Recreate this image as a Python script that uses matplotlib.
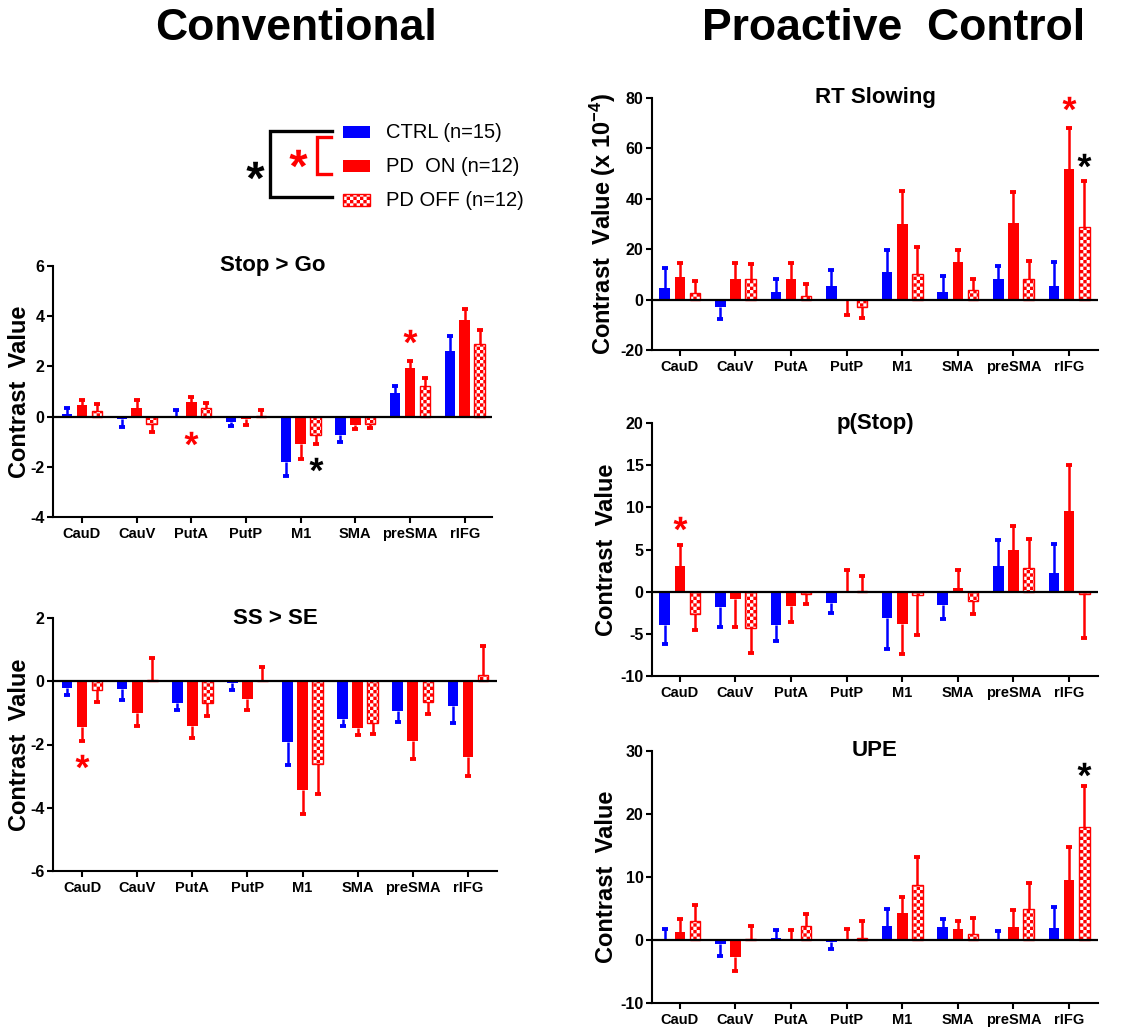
import numpy as np
import matplotlib
matplotlib.use("Agg")
import matplotlib.pyplot as plt
import matplotlib.hatch as mhatch
from matplotlib.path import Path
from matplotlib.patches import Rectangle
from matplotlib.lines import Line2D
from matplotlib.textpath import TextPath
from matplotlib.font_manager import FontProperties

# ---------------- data ----------------
regions = ['CauD', 'CauV', 'PutA', 'PutP', 'M1', 'SMA', 'preSMA', 'rIFG']
group_labels = ['CTRL (n=15)', 'PD  ON (n=12)', 'PD OFF (n=12)']

stopgo_ctrl = [0.10, -0.08, 0.03, -0.22, -1.80, -0.75, 0.95, 2.63]
stopgo_ctrl_err = [0.25, 0.34, 0.24, 0.16, 0.58, 0.25, 0.25, 0.57]
stopgo_on = [0.47, 0.33, 0.60, -0.08, -1.10, -0.32, 1.93, 3.85]
stopgo_on_err = [0.18, 0.32, 0.20, 0.24, 0.60, 0.16, 0.29, 0.45]
stopgo_off = [0.24, -0.30, 0.33, 0.02, -0.75, -0.30, 1.23, 2.90]
stopgo_off_err = [0.26, 0.32, 0.22, 0.26, 0.35, 0.15, 0.29, 0.55]

ssse_ctrl = [-0.20, -0.25, -0.68, -0.05, -1.92, -1.20, -0.95, -0.78]
ssse_ctrl_err = [0.25, 0.35, 0.22, 0.22, 0.73, 0.22, 0.33, 0.54]
ssse_on = [-1.45, -1.00, -1.40, -0.57, -3.45, -1.47, -1.88, -2.40]
ssse_on_err = [0.45, 0.42, 0.40, 0.33, 0.75, 0.23, 0.57, 0.60]
ssse_off = [-0.28, 0.05, -0.68, 0.02, -2.62, -1.32, -0.65, 0.20]
ssse_off_err = [0.37, 0.67, 0.42, 0.43, 0.93, 0.36, 0.40, 0.90]

rt_ctrl = [4.6, -3.0, 3.0, 5.5, 11.0, 3.2, 8.0, 5.3]
rt_ctrl_err = [7.9, 4.5, 5.0, 6.2, 8.5, 6.1, 5.5, 9.7]
rt_on = [9.0, 8.2, 8.2, -0.3, 30.0, 15.0, 30.5, 52.0]
rt_on_err = [5.7, 6.5, 6.3, 6.0, 13.0, 4.5, 12.2, 16.0]
rt_off = [2.5, 8.2, 1.5, -3.0, 10.3, 4.0, 8.0, 28.7]
rt_off_err = [4.8, 6.0, 4.5, 4.3, 10.7, 4.3, 7.2, 18.3]

pstop_ctrl = [-4.0, -1.8, -4.0, -1.4, -3.1, -1.6, 3.1, 2.2]
pstop_ctrl_err = [2.2, 2.4, 1.9, 1.1, 3.7, 1.6, 3.0, 3.4]
pstop_on = [3.0, -0.9, -1.7, 0.05, -3.8, 0.4, 4.9, 9.6]
pstop_on_err = [2.5, 3.3, 1.9, 2.55, 3.6, 2.2, 2.9, 5.4]
pstop_off = [-2.7, -4.3, -0.3, 0.05, -0.4, -1.1, 2.8, -0.3]
pstop_off_err = [1.9, 3.0, 1.2, 1.85, 4.7, 1.6, 3.5, 5.2]

upe_ctrl = [0.05, -0.6, 0.3, -0.3, 2.3, 2.1, 0.2, 1.9]
upe_ctrl_err = [1.65, 2.0, 1.3, 1.2, 2.6, 1.2, 1.2, 3.4]
upe_on = [1.3, -2.7, 0.05, 0.05, 4.3, 1.7, 2.0, 9.5]
upe_on_err = [2.0, 2.2, 1.55, 1.65, 2.6, 1.3, 2.7, 5.2]
upe_off = [3.0, 0.1, 2.2, 0.3, 8.8, 1.0, 5.0, 18.0]
upe_off_err = [2.6, 2.2, 1.9, 2.7, 4.4, 2.5, 4.1, 6.4]

# significance stars: (region index, group index, y value, colour)
stopgo_stars = [(2, 1, -0.84, 'red'), (4, 2, -1.9, 'black'), (6, 1, 3.2, 'red')]
ssse_stars = [(0, 1, -2.53, 'red')]
rt_stars = [(7, 1, 78.0, 'red'), (7, 2, 55.5, 'black')]
pstop_stars = [(0, 1, 8.1, 'red')]
upe_stars = [(7, 2, 27.2, 'black')]

# ---------------- checkerboard hatch ----------------
class CheckerHatch(mhatch.HatchPatternBase):
    def __init__(self, hatch, density):
        self.n = 30 if '.' in hatch else 0
        self.num_vertices = (self.n * self.n // 2) * 5

    def set_vertices_and_codes(self, vertices, codes):
        a = 1.0 / self.n
        k = 0
        for i in range(self.n):
            for j in range(self.n):
                if (i + j) % 2 == 0:
                    x0, y0 = i * a, j * a
                    vertices[k:k + 5] = [(x0, y0), (x0 + a, y0), (x0 + a, y0 + a),
                                         (x0, y0 + a), (x0, y0)]
                    codes[k] = Path.MOVETO
                    codes[k + 1:k + 4] = Path.LINETO
                    codes[k + 4] = Path.CLOSEPOLY
                    k += 5


mhatch._hatch_types = [CheckerHatch if t is mhatch.SmallFilledCircles else t
                       for t in mhatch._hatch_types]

# ---------------- style ----------------
plt.rcParams['font.family'] = ['Liberation Sans', 'DejaVu Sans']
plt.rcParams['font.weight'] = 'bold'
plt.rcParams['mathtext.fontset'] = 'custom'
plt.rcParams['mathtext.rm'] = 'Liberation Sans:bold'
plt.rcParams['mathtext.bf'] = 'Liberation Sans:bold'
plt.rcParams['mathtext.it'] = 'Liberation Sans:bold'
plt.rcParams['hatch.linewidth'] = 0.01
plt.rcParams['axes.unicode_minus'] = False

BLUE = '#0000ff'
RED = '#ff0000'

W, H = 1135, 1036
fig = plt.figure(figsize=(W / 100, H / 100), dpi=100)


def fx(px):
    return px / W


def fy(py):
    return 1 - py / H


def add_ax(left, top, right, bottom):
    return fig.add_axes([fx(left), fy(bottom), (right - left) / W, (bottom - top) / H])


# star glyph as a centred marker path
sp = TextPath((0, 0), '*', size=10, prop=FontProperties(family='Liberation Sans', weight='bold'))
sv = np.array(sp.vertices, dtype=float)
sc = np.array(sp.codes)
real = sc != Path.CLOSEPOLY
cx = (sv[real, 0].min() + sv[real, 0].max()) / 2
cy = (sv[real, 1].min() + sv[real, 1].max()) / 2
sv = sv - [cx, cy]
sv[~real] = 0.0
STAR = Path(sv, sc)

OFFS = [-0.273, 0.0, 0.273]
BW = 0.19


def panel(ax, title, series, errs, ylim, yticks, xlim, stars, ylabel, ylab_x):
    x = np.arange(len(regions))
    for gi, (vals, err) in enumerate(zip(series, errs)):
        vals = np.asarray(vals)
        err = np.asarray(err)
        xp = x + OFFS[gi]
        if gi == 0:
            ax.bar(xp, vals, BW, color=BLUE, linewidth=0, zorder=2)
            col = BLUE
        elif gi == 1:
            ax.bar(xp, vals, BW, color=RED, linewidth=0, zorder=2)
            col = RED
        else:
            ax.bar(xp, vals, BW, facecolor='white', edgecolor=RED, hatch='.',
                   linewidth=1.0, zorder=2)
            col = RED
        tips = vals + np.sign(vals) * err
        ax.vlines(xp, vals, tips, color=col, linewidth=1.8, zorder=1.5)
        ax.plot(xp, tips, linestyle='none', marker='_', markersize=4,
                markeredgewidth=2.8, color=col, zorder=1.5)
    for ri, gi, yv, c in stars:
        ax.plot(ri + OFFS[gi], yv, linestyle='none', marker=STAR, markersize=10,
                color=c, markeredgewidth=0, zorder=6, clip_on=False)
    ax.axhline(0, color='black', linewidth=1.6, zorder=5)
    ax.set_xlim(*xlim)
    ax.set_ylim(*ylim)
    ax.set_yticks(yticks)
    ax.set_xticks(x)
    ax.set_xticklabels(regions, fontsize=10.5, fontweight='bold')
    ax.tick_params(axis='x', direction='out', length=4, width=1.5, labelsize=10.5)
    ax.tick_params(axis='y', direction='out', length=4, width=1.5, labelsize=11.5, pad=2)
    for lab in ax.get_yticklabels():
        lab.set_fontweight('bold')
    for s in ['top', 'right']:
        ax.spines[s].set_visible(False)
    for s in ['left', 'bottom']:
        ax.spines[s].set_linewidth(1.5)
    ax.text(0.5, 1.0, title, transform=ax.transAxes, ha='center', va='center',
            fontsize=16, fontweight='bold')
    ax.set_ylabel(ylabel, fontsize=17, fontweight='bold')
    ax.yaxis.set_label_coords(ylab_x, 0.5)


ax1 = add_ax(53, 266, 492, 517)
panel(ax1, 'Stop > Go', [stopgo_ctrl, stopgo_on, stopgo_off],
      [stopgo_ctrl_err, stopgo_on_err, stopgo_off_err],
      (-4, 6), [-4, -2, 0, 2, 4, 6], (-0.53, 7.5), stopgo_stars,
      'Contrast  Value', -0.05)

ax2 = add_ax(53, 618, 497, 871)
panel(ax2, 'SS > SE', [ssse_ctrl, ssse_on, ssse_off],
      [ssse_ctrl_err, ssse_on_err, ssse_off_err],
      (-6, 2), [-6, -4, -2, 0, 2], (-0.53, 7.53), ssse_stars,
      'Contrast  Value', -0.05)

ax3 = add_ax(652, 98, 1098, 350)
panel(ax3, 'RT Slowing', [rt_ctrl, rt_on, rt_off],
      [rt_ctrl_err, rt_on_err, rt_off_err],
      (-20, 80), [-20, 0, 20, 40, 60, 80], (-0.5, 7.52), rt_stars,
      r'Contrast  Value (x 10$^{-4}$)', -0.076)

ax4 = add_ax(652, 423, 1098, 676)
panel(ax4, 'p(Stop)', [pstop_ctrl, pstop_on, pstop_off],
      [pstop_ctrl_err, pstop_on_err, pstop_off_err],
      (-10, 20), [-10, -5, 0, 5, 10, 15, 20], (-0.5, 7.52), pstop_stars,
      'Contrast  Value', -0.076)

ax5 = add_ax(652, 751, 1098, 1003)
panel(ax5, 'UPE', [upe_ctrl, upe_on, upe_off],
      [upe_ctrl_err, upe_on_err, upe_off_err],
      (-10, 30), [-10, 0, 10, 20, 30], (-0.5, 7.52), upe_stars,
      'Contrast  Value', -0.076)

# ---------------- big titles ----------------
fig.text(fx(155), fy(40), 'Conventional', ha='left', va='baseline',
         fontsize=32, fontweight='bold')
fig.text(fx(702), fy(40), 'Proactive  Control', ha='left', va='baseline',
         fontsize=32, fontweight='bold')

# ---------------- legend ----------------
leg_rows = [(132, dict(facecolor=BLUE, edgecolor='none')),
            (166, dict(facecolor=RED, edgecolor='none')),
            (200, dict(facecolor='white', edgecolor=RED, hatch='.', linewidth=1.0))]
for (yc, kw), lab in zip(leg_rows, group_labels):
    fig.add_artist(Rectangle((fx(343), fy(yc + 5.5)), 27 / W, 11 / H,
                             transform=fig.transFigure, **kw))
    fig.text(fx(386), fy(yc), lab, ha='left', va='center', fontsize=14.5,
             fontweight='normal')

fig.add_artist(Line2D([fx(332), fx(270), fx(270), fx(332)],
                      [fy(131), fy(131), fy(197), fy(197)],
                      transform=fig.transFigure, color='black', linewidth=2.4,
                      solid_joinstyle='miter'))
fig.add_artist(Line2D([fx(331), fx(317), fx(317), fx(331)],
                      [fy(137), fy(137), fy(174), fy(174)],
                      transform=fig.transFigure, color=RED, linewidth=2.4,
                      solid_joinstyle='miter'))
fig.add_artist(Line2D([fx(255)], [fy(170)], transform=fig.transFigure,
                      linestyle='none', marker=STAR, markersize=13,
                      color='black', markeredgewidth=0))
fig.add_artist(Line2D([fx(298)], [fy(158)], transform=fig.transFigure,
                      linestyle='none', marker=STAR, markersize=13,
                      color=RED, markeredgewidth=0))

fig.savefig('out.png', dpi=100)
